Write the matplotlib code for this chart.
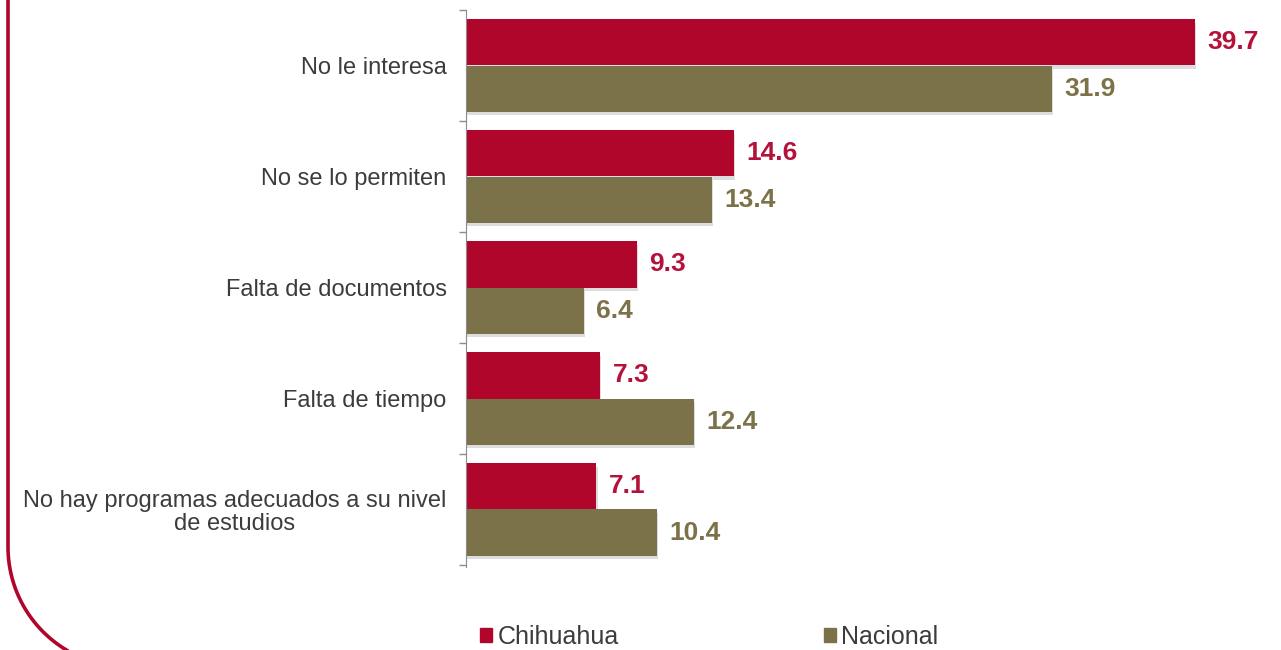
import numpy as np
import matplotlib.pyplot as plt
import matplotlib.patheffects as pe
from matplotlib.lines import Line2D
from matplotlib.patches import Patch

plt.rcParams['font.family'] = ['Liberation Sans', 'DejaVu Sans']

# razones de no asistencia (porcentaje)
categorias = ['No le interesa', 'No se lo permiten', 'Falta de documentos',
              'Falta de tiempo', 'No hay programas adecuados a su nivel\nde estudios']
chihuahua = [39.7, 14.6, 9.3, 7.3, 7.1]
nacional = [31.9, 13.4, 6.4, 12.4, 10.4]

rojo = '#B0062C'
oliva = '#7B7249'
texto = '#3c3c3c'

W, H = 1281, 650
fig = plt.figure(figsize=(W / 100, H / 100), dpi=100)
ax = fig.add_axes([466 / W, 1 - 565 / H, 808 / W, 555 / H])

y = np.arange(len(categorias))
h = 0.415
sombra = [pe.SimplePatchShadow(offset=(1, -2.5), shadow_rgbFace='#909090', alpha=0.3), pe.Normal()]

b1 = ax.barh(y - h / 2, chihuahua, height=h, color=rojo, path_effects=sombra)
b2 = ax.barh(y + h / 2, nacional, height=h, color=oliva, path_effects=sombra)

for barras, vals, col in [(b1, chihuahua, '#B5123A'), (b2, nacional, oliva)]:
    for b, v in zip(barras, vals):
        ax.annotate(f'{v:.1f}', (v, b.get_y() + b.get_height() / 2),
                    xytext=(9, 0), textcoords='offset points',
                    ha='left', va='center', fontsize=19, fontweight='bold', color=col)

ax.set_xlim(0, 44)
ax.set_ylim(len(categorias) - 0.5, -0.5)
ax.set_xticks([])
ax.set_yticks(y)
ax.set_yticklabels(categorias, fontsize=17, color=texto, multialignment='center',
                   linespacing=1.05)
ax.set_yticks(np.arange(-0.5, len(categorias)), minor=True)
ax.tick_params(axis='y', which='major', length=0, pad=14)
ax.tick_params(axis='y', which='minor', length=5, width=1, color='#8c8c8c', direction='out')
for s in ['top', 'right', 'bottom']:
    ax.spines[s].set_visible(False)
ax.spines['left'].set_color('#8c8c8c')
ax.spines['left'].set_bounds(-0.5, len(categorias) - 0.48)

handles = [Patch(color=rojo), Patch(color=oliva)]
fig.legend(handles, ['Chihuahua', 'Nacional'], loc='center', ncol=2,
           bbox_to_anchor=(709 / W, 1 - 637 / H), frameon=False, fontsize=18,
           handlelength=0.5, handleheight=0.5, handletextpad=0.2,
           columnspacing=8.2, labelcolor=texto)

# marco con esquina redondeada a la izquierda
r, cx, cy = 120, 128, 547
t = np.linspace(0, np.arcsin((650 - cy) / r) + 0.05, 60)
xs = np.concatenate([[8, 8], cx - r * np.cos(t)])
ys = np.concatenate([[0, cy], cy + r * np.sin(t)])
fig.add_artist(Line2D(xs / W, 1 - ys / H, color=rojo, lw=2.6, solid_capstyle='butt'))

fig.savefig('out.png', dpi=100, facecolor='white')
